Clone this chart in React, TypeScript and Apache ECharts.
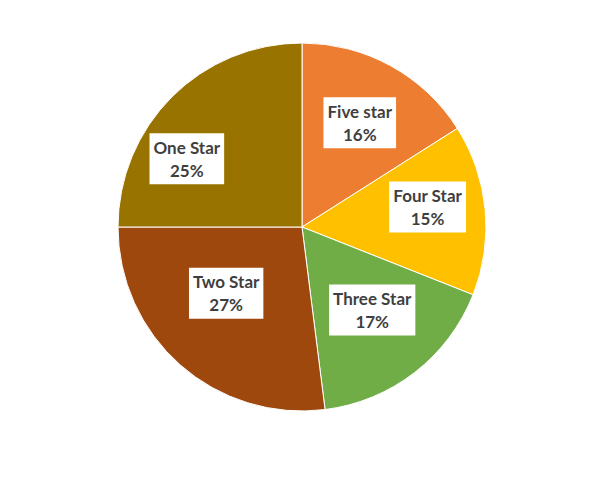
import React, { useEffect, useRef } from "react";
import * as echarts from "echarts";

const categories = ["Five star", "Four Star", "Three Star", "Two Star", "One Star"];
const values = [16, 15, 17, 27, 25];
const colors = ["#ED7D31", "#FFC000", "#70AD47", "#9E480E", "#997300"];
// label nudges (px) from the default inside position, per slice
const labelShift = [
  [12, -21],
  [31, -11],
  [12, 8],
  [-13, -5],
  [-48, -1],
];

export default function App() {
  const ref = useRef<HTMLDivElement>(null);
  useEffect(() => {
    document.body.style.margin = "0";
    const chart = echarts.init(ref.current!, undefined, { renderer: "svg" });
    chart.setOption({
      animation: false,
      backgroundColor: "#ffffff",
      series: [
        {
          type: "pie",
          center: [302, 227],
          radius: 184,
          startAngle: 90,
          clockwise: true,
          avoidLabelOverlap: false,
          itemStyle: { borderColor: "#ffffff", borderWidth: 1 },
          label: {
            show: true,
            position: "inside",
            formatter: (p: any) => `${p.name}\n${p.value}%`,
            backgroundColor: "#ffffff",
            color: "#3f3f3f",
            fontFamily: "Lato",
            fontWeight: "bold",
            fontSize: 17,
            lineHeight: 23,
            padding: [3, 4, 2, 4],
            align: "center",
          },
          labelLine: { show: false },
          labelLayout: (params: any) => {
            const s = labelShift[params.dataIndex] || [0, 0];
            return { dx: s[0], dy: s[1] };
          },
          data: categories.map((name, i) => ({
            name,
            value: values[i],
            itemStyle: { color: colors[i] },
          })),
        },
      ],
    });
    return () => chart.dispose();
  }, []);
  return <div ref={ref} style={{ width: 605, height: 478 }} />;
}
